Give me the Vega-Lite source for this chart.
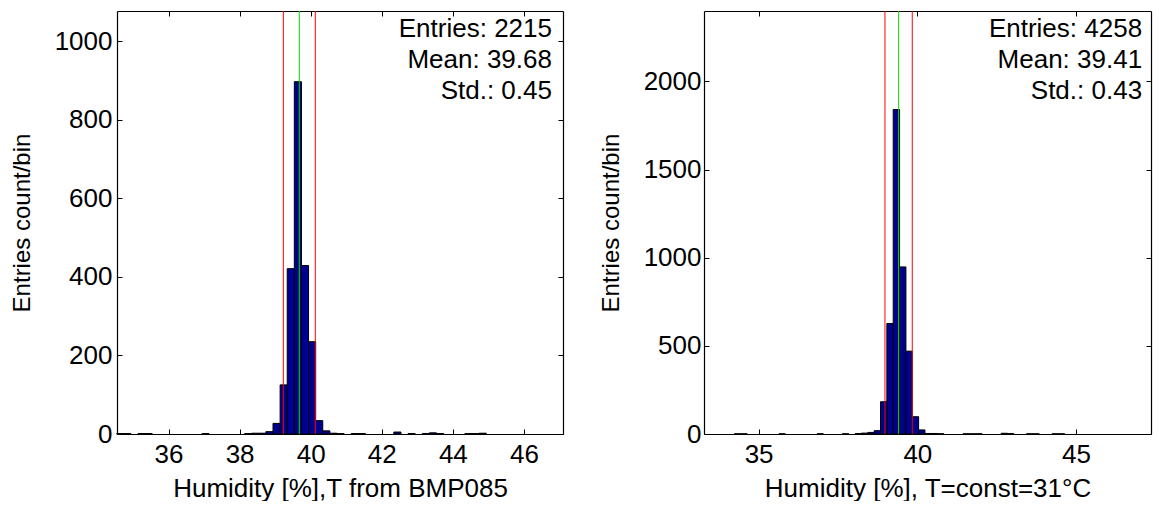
{
  "$schema": "https://vega.github.io/schema/vega-lite/v6.json",
  "background": "white",
  "padding": {"left": 10, "top": 10, "right": 5, "bottom": 0},
  "spacing": 141,
  "bounds": "flush",
  "config": {
    "font": "Liberation Sans",
    "view": {"stroke": null},
    "axis": {
      "labelFont": "Liberation Sans",
      "titleFont": "Liberation Sans",
      "labelFontSize": 26,
      "titleFontSize": 26,
      "titleFontWeight": "normal",
      "labelColor": "black",
      "titleColor": "black",
      "domainColor": "black",
      "tickColor": "black",
      "domainWidth": 1.2,
      "tickWidth": 1,
      "tickSize": -5,
      "grid": false,
      "labelFlush": false,
      "labelOverlap": false,
      "format": "d"
    }
  },
  "datasets": {
    "left": [
      {"lo": 34.54, "hi": 34.74, "n": 1},
      {"lo": 34.74, "hi": 34.94, "n": 1},
      {"lo": 35.14, "hi": 35.34, "n": 1},
      {"lo": 35.34, "hi": 35.54, "n": 1},
      {"lo": 36.94, "hi": 37.14, "n": 1},
      {"lo": 38.14, "hi": 38.34, "n": 1},
      {"lo": 38.34, "hi": 38.54, "n": 2},
      {"lo": 38.54, "hi": 38.74, "n": 2},
      {"lo": 38.74, "hi": 38.94, "n": 6},
      {"lo": 38.94, "hi": 39.14, "n": 27},
      {"lo": 39.14, "hi": 39.34, "n": 125},
      {"lo": 39.34, "hi": 39.54, "n": 421},
      {"lo": 39.54, "hi": 39.74, "n": 897},
      {"lo": 39.74, "hi": 39.94, "n": 429},
      {"lo": 39.94, "hi": 40.14, "n": 235},
      {"lo": 40.14, "hi": 40.34, "n": 34},
      {"lo": 40.34, "hi": 40.54, "n": 8},
      {"lo": 40.54, "hi": 40.74, "n": 2},
      {"lo": 40.74, "hi": 40.94, "n": 1},
      {"lo": 41.14, "hi": 41.34, "n": 1},
      {"lo": 41.34, "hi": 41.54, "n": 1},
      {"lo": 42.34, "hi": 42.54, "n": 5},
      {"lo": 42.74, "hi": 42.94, "n": 1},
      {"lo": 43.14, "hi": 43.34, "n": 1},
      {"lo": 43.34, "hi": 43.54, "n": 3},
      {"lo": 43.54, "hi": 43.74, "n": 1},
      {"lo": 44.34, "hi": 44.54, "n": 1},
      {"lo": 44.54, "hi": 44.74, "n": 1},
      {"lo": 44.74, "hi": 44.94, "n": 2}
    ],
    "right": [
      {"lo": 34.24, "hi": 34.44, "n": 1},
      {"lo": 34.44, "hi": 34.64, "n": 1},
      {"lo": 35.64, "hi": 35.84, "n": 1},
      {"lo": 36.84, "hi": 37.04, "n": 1},
      {"lo": 37.64, "hi": 37.84, "n": 1},
      {"lo": 38.04, "hi": 38.24, "n": 2},
      {"lo": 38.24, "hi": 38.44, "n": 5},
      {"lo": 38.44, "hi": 38.64, "n": 9},
      {"lo": 38.64, "hi": 38.84, "n": 19},
      {"lo": 38.84, "hi": 39.04, "n": 183},
      {"lo": 39.04, "hi": 39.24, "n": 627},
      {"lo": 39.24, "hi": 39.44, "n": 1841},
      {"lo": 39.44, "hi": 39.64, "n": 948},
      {"lo": 39.64, "hi": 39.84, "n": 470},
      {"lo": 39.84, "hi": 40.04, "n": 98},
      {"lo": 40.04, "hi": 40.24, "n": 23},
      {"lo": 40.24, "hi": 40.44, "n": 3},
      {"lo": 40.44, "hi": 40.64, "n": 3},
      {"lo": 40.64, "hi": 40.84, "n": 1},
      {"lo": 41.44, "hi": 41.64, "n": 1},
      {"lo": 41.64, "hi": 41.84, "n": 1},
      {"lo": 41.84, "hi": 42.04, "n": 1},
      {"lo": 42.64, "hi": 42.84, "n": 4},
      {"lo": 42.84, "hi": 43.04, "n": 2},
      {"lo": 43.44, "hi": 43.64, "n": 1},
      {"lo": 43.64, "hi": 43.84, "n": 1},
      {"lo": 44.24, "hi": 44.44, "n": 1},
      {"lo": 44.44, "hi": 44.64, "n": 1}
    ],
    "one": [{}]
  },
  "hconcat": [
    {
      "width": 446,
      "height": 423,
      "resolve": {"axis": {"x": "independent", "y": "independent"}},
      "layer": [
        {
          "data": {"name": "left"},
          "mark": {"type": "rect", "fill": "#000090", "stroke": "black", "strokeWidth": 1},
          "encoding": {
            "x": {"field": "lo", "type": "quantitative",
                  "scale": {"domain": [34.55, 47.1], "nice": false, "zero": false},
                  "axis": {"orient": "bottom", "values": [36, 38, 40, 42, 44, 46], "title": "Humidity [%],T from BMP085", "labelPadding": 12, "titlePadding": 8}},
            "x2": {"field": "hi"},
            "y": {"field": "n", "type": "quantitative",
                  "scale": {"domain": [0, 1077], "nice": false},
                  "axis": {"orient": "left", "values": [0, 200, 400, 600, 800, 1000], "title": "Entries count/bin", "titleFontSize": 24, "labelPadding": 10, "titlePadding": 20}},
            "y2": {"datum": 0}
          }
        },
        {
          "data": {"name": "one"},
          "mark": {"type": "rule", "color": "#ff0000", "strokeWidth": 1},
          "encoding": {"x": {"datum": 39.23, "type": "quantitative", "axis": null}}
        },
        {
          "data": {"name": "one"},
          "mark": {"type": "rule", "color": "#ff0000", "strokeWidth": 1},
          "encoding": {"x": {"datum": 40.13, "type": "quantitative", "axis": null}}
        },
        {
          "data": {"name": "one"},
          "mark": {"type": "rule", "color": "#00e000", "strokeWidth": 1},
          "encoding": {"x": {"datum": 39.68, "type": "quantitative", "axis": null}}
        },
        {
          "data": {"name": "one"},
          "mark": {"type": "text", "align": "right", "baseline": "alphabetic", "fontSize": 26, "lineHeight": 31, "color": "black"},
          "encoding": {
            "x": {"datum": 46.79, "type": "quantitative",
                  "axis": {"orient": "top", "values": [36, 38, 40, 42, 44, 46], "labels": false, "title": null}},
            "y": {"datum": 1010, "type": "quantitative",
                  "axis": {"orient": "right", "values": [0, 200, 400, 600, 800, 1000], "labels": false, "title": null}},
            "text": {"value": ["Entries: 2215", "Mean: 39.68", "Std.: 0.45"]}
          }
        }
      ]
    },
    {
      "width": 447,
      "height": 423,
      "resolve": {"axis": {"x": "independent", "y": "independent"}},
      "layer": [
        {
          "data": {"name": "right"},
          "mark": {"type": "rect", "fill": "#000090", "stroke": "black", "strokeWidth": 1},
          "encoding": {
            "x": {"field": "lo", "type": "quantitative",
                  "scale": {"domain": [33.28, 47.36], "nice": false, "zero": false},
                  "axis": {"orient": "bottom", "values": [35, 40, 45], "title": "Humidity [%], T=const=31°C", "labelPadding": 12, "titlePadding": 8}},
            "x2": {"field": "hi"},
            "y": {"field": "n", "type": "quantitative",
                  "scale": {"domain": [0, 2400], "nice": false},
                  "axis": {"orient": "left", "values": [0, 500, 1000, 1500, 2000], "title": "Entries count/bin", "titleFontSize": 24, "labelPadding": 8, "titlePadding": 20}},
            "y2": {"datum": 0}
          }
        },
        {
          "data": {"name": "one"},
          "mark": {"type": "rule", "color": "#ff0000", "strokeWidth": 1},
          "encoding": {"x": {"datum": 38.98, "type": "quantitative", "axis": null}}
        },
        {
          "data": {"name": "one"},
          "mark": {"type": "rule", "color": "#ff0000", "strokeWidth": 1},
          "encoding": {"x": {"datum": 39.84, "type": "quantitative", "axis": null}}
        },
        {
          "data": {"name": "one"},
          "mark": {"type": "rule", "color": "#00e000", "strokeWidth": 1},
          "encoding": {"x": {"datum": 39.41, "type": "quantitative", "axis": null}}
        },
        {
          "data": {"name": "one"},
          "mark": {"type": "text", "align": "right", "baseline": "alphabetic", "fontSize": 26, "lineHeight": 31, "color": "black"},
          "encoding": {
            "x": {"datum": 47.08, "type": "quantitative",
                  "axis": {"orient": "top", "values": [35, 40, 45], "labels": false, "title": null}},
            "y": {"datum": 2252, "type": "quantitative",
                  "axis": {"orient": "right", "values": [0, 500, 1000, 1500, 2000], "labels": false, "title": null}},
            "text": {"value": ["Entries: 4258", "Mean: 39.41", "Std.: 0.43"]}
          }
        }
      ]
    }
  ]
}
